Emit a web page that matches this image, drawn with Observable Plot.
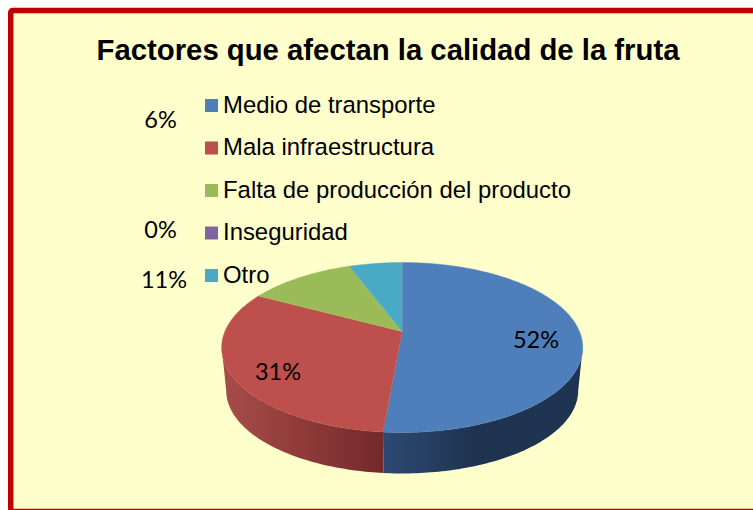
<!DOCTYPE html>
<html lang="es">
<head>
<meta charset="utf-8">
<script src="https://cdn.jsdelivr.net/npm/d3@7"></script>
<script src="https://cdn.jsdelivr.net/npm/@observablehq/plot@0.6"></script>
<style>
html,body{margin:0;padding:0;background:#fff;overflow:hidden}
</style>
</head>
<body>
<div id="chart"></div>
<script>
// ---- data ----
const title = "Factores que afectan la calidad de la fruta";
const categories = ["Medio de transporte", "Mala infraestructura", "Falta de producción del producto", "Inseguridad", "Otro"];
const shares = [51.4, 31.4, 11.5, 0, 5.7];
const shareLabels = ["52%", "31%", "11%", "0%", "6%"];
const colors = ["#4f7fbb", "#bd4f4c", "#9bbb59", "#8064a2", "#4aaac5"];

// ---- layout of the page (pixel space) ----
const W = 753, H = 510;
const pie = {cx: 401.7, cy: 331, b: 177.3, a: 82, k: -0.188, depth: 43.5, baseScale: 0.975};
const labelPlaces = [[535.5, 339.5], [277.5, 372], [163.5, 280], [160, 230], [160, 120]];
const legendX = 205, legendBox = 13, legendTop = 99, legendStep = 42.5;

// perspective projection of the pie disc; theta is clockwise from 12 o'clock
function rim(theta, rho = 1) {
  const u = rho * Math.sin(theta), v = -rho * Math.cos(theta);
  const w = 1 + pie.k * v;
  return {x: pie.b * u / w, y: pie.a * v / w};
}
const topP = (t, r) => { const p = rim(t, r); return {x: pie.cx + p.x, y: pie.cy + p.y}; };
const botP = (t) => { const p = rim(t); return {x: pie.cx + p.x * pie.baseScale, y: pie.cy + pie.depth + p.y * pie.baseScale}; };

const arcs = d3.pie().sort(null).value(d => d)(shares);
const step = Math.PI / 180;
function thetas(a, b) {
  const n = Math.max(1, Math.ceil((b - a) / step));
  return d3.range(n + 1).map(i => a + (b - a) * i / n);
}

// top face polygons
const faces = arcs.flatMap((arc, i) => arc.endAngle - arc.startAngle < 1e-6 ? [] : [
  {category: categories[i], x: pie.cx, y: pie.cy},
  ...thetas(arc.startAngle, arc.endAngle).map(t => ({category: categories[i], ...topP(t)}))
]);

// visible outer walls: between silhouette angles
const silhouetteR = Math.acos(pie.k);              // right side
const silhouetteL = 2 * Math.PI - silhouetteR;     // left side
function wall(a, b) {
  const ts = thetas(a, b);
  return [...ts.map(t => topP(t)), ...ts.slice().reverse().map(botP)];
}
const wallBlue = wall(silhouetteR, arcs[0].endAngle);
const wallRed = wall(arcs[1].startAngle, silhouetteL);

const legendRows = categories.map((category, i) => ({category, i}));
const pctLabels = shareLabels.map((text, i) => ({text, x: labelPlaces[i][0], y: labelPlaces[i][1]}));
const gradients = () => {
  const ns = "http://www.w3.org/2000/svg";
  const defs = document.createElementNS(ns, "defs");
  const mk = (id, stops) => {
    const g = document.createElementNS(ns, "linearGradient");
    g.setAttribute("id", id);
    stops.forEach(([o, c]) => {
      const s = document.createElementNS(ns, "stop");
      s.setAttribute("offset", o); s.setAttribute("stop-color", c);
      g.appendChild(s);
    });
    defs.appendChild(g);
  };
  mk("wallBlue", [[0, "#2e4a73"], [0.45, "#1e3350"], [1, "#1f3452"]]);
  mk("wallRed", [[0, "#a64d4a"], [0.5, "#8f3b39"], [1, "#72292a"]]);
  return defs;
};

const sans = "Liberation Sans";
const chart = Plot.plot({
  width: W, height: H,
  margin: 0,
  x: {domain: [0, W], range: [0, W], axis: null},
  y: {domain: [0, H], range: [0, H], axis: null},
  color: {domain: categories, range: colors},
  style: {background: "#fff", overflow: "hidden"},
  marks: [
    gradients,
    // frame
    Plot.rect([{}], {x1: 10.7, x2: 790, y1: 10.5, y2: 511.5, fill: "#ffffcc", stroke: "#c00000", strokeWidth: 5.5, rx: 2}),
    // title
    Plot.text([title], {x: () => 387.5, y: () => 50, text: d => d, fontFamily: sans, fontWeight: "bold", fontSize: 29.3, fill: "#000", lineAnchor: "middle"}),
    // walls
    Plot.line(wallBlue, {x: "x", y: "y", fill: "url(#wallBlue)", stroke: "none", curve: "linear"}),
    Plot.line(wallRed, {x: "x", y: "y", fill: "url(#wallRed)", stroke: "none", curve: "linear"}),
    // top of the pie
    Plot.line(faces, {x: "x", y: "y", z: "category", fill: "category", stroke: "category", strokeWidth: 0.4, curve: "linear"}),
    // legend
    Plot.rect(legendRows, {
      x1: () => legendX, x2: () => legendX + legendBox,
      y1: d => legendTop + d.i * legendStep, y2: d => legendTop + d.i * legendStep + legendBox,
      fill: "category"
    }),
    Plot.text(legendRows, {
      x: () => legendX + 17.5, y: d => legendTop + 5.8 + d.i * legendStep, text: "category",
      fontFamily: sans, fontSize: 23.9, fill: "#000", textAnchor: "start", lineAnchor: "middle"
    }),
    // percent labels
    Plot.text(pctLabels, {x: "x", y: "y", text: "text", fontFamily: "Lato", fontSize: 23.5, fill: "#000", lineAnchor: "middle"})
  ]
});
document.getElementById("chart").appendChild(chart);
</script>
</body>
</html>
